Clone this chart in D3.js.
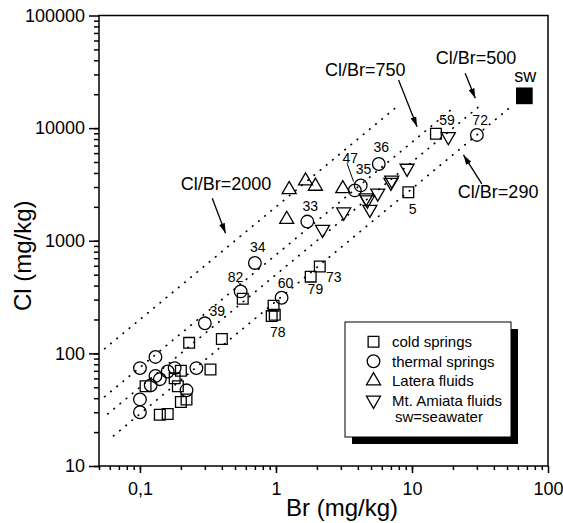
<!DOCTYPE html>
<html>
<head>
<meta charset="utf-8">
<script src="https://cdn.jsdelivr.net/npm/d3@7"></script>
<style>
  body { margin: 0; background: #fff; }
  svg text { font-family: "Liberation Sans", Arial, sans-serif; fill: #000; }
</style>
</head>
<body>
<div id="chart"></div>
<script>
// Cl vs Br scatter (log-log) with Cl/Br ratio lines

// Br, Cl pairs (mg/kg)
const coldSprings = [
    [15, 8900], [9.4, 2700], [2.1, 590], [1.8, 480], [0.96, 265], [0.98, 220],
    [0.93, 215], [0.57, 305], [0.23, 124], [0.40, 134], [0.33, 72], [0.20, 70],
    [0.18, 60], [0.19, 51], [0.11, 51], [0.20, 37], [0.22, 39], [0.14, 28.5], [0.16, 29]
];
const thermalSprings = [
    [30, 8700], [5.7, 4800], [4.2, 3100], [3.8, 2800], [1.7, 1480], [0.70, 635],
    [0.55, 355], [1.1, 312], [0.30, 185], [0.1, 74], [0.13, 93], [0.13, 63],
    [0.14, 59], [0.12, 52], [0.16, 69], [0.18, 74], [0.26, 74], [0.22, 47],
    [0.1, 39], [0.1, 30]
];
const lateraFluids = [[1.25, 2850], [1.65, 3400], [1.95, 3050], [3.1, 2900], [1.2, 1550]];
const amiataFluids = [
    [18.5, 8400], [9.2, 4400], [7.0, 3300], [7.1, 3450], [5.6, 2650], [4.6, 2400],
    [4.7, 2300], [4.9, 1900], [3.15, 1800], [2.2, 1260]
];
const seawater = [[67, 19350]];

// Cl/Br ratio lines: ratio, Br start, Br end
const ratioLines = [[2000, 0.055, 7.5], [750, 0.055, 21], [500, 0.058, 33], [290, 0.064, 52]];

// sample numbers (Br, Cl of label centre)
const sampleLabels = [
    ["59", 18.1, 11830], ["72", 31.7, 11830], ["36", 5.95, 6765], ["35", 4.41, 4315],
    ["47", 3.52, 5404], ["5", 10.1, 1916], ["33", 1.79, 2037], ["34", 0.735, 887],
    ["82", 0.505, 480], ["60", 1.175, 425], ["73", 2.66, 480], ["79", 1.95, 371],
    ["39", 0.37, 238], ["78", 1.03, 155]
];
// ratio captions: text, Br, Cl of text centre, arrow from, arrow to
const ratioLabels = [
    ["Cl/Br=2000", 0.43, 3193, [0.34, 2385], [0.426, 1166]],
    ["Cl/Br=750", 4.54, 32870, [7.97, 26800], [10.9, 10300]],
    ["Cl/Br=500", 29.6, 42000, [24.6, 30700], [29.2, 18400]],
    ["Cl/Br=290", 43, 2713, [32.6, 3195], [23.9, 5780]]
];
const leaders = [[[3.33, 4875], [3.72, 3350]], [[0.52, 440], [0.54, 415]]];

const xTickValues = [0.1, 1, 10, 100];
const xTickLabels = ["0,1", "1", "10", "100"];
const yTickValues = [10, 100, 1000, 10000, 100000];

const legendItems = ["cold springs", "thermal springs", "Latera fluids", "Mt. Amiata fluids"];

const w = 563, h = 523;
const margin = { top: 15.5, right: 15, bottom: 57, left: 99 };

const svg = d3.select("#chart").append("svg")
    .attr("width", w)
    .attr("height", h);

const x = d3.scaleLog()
    .domain([0.05, 100])
    .range([margin.left, w - margin.right]);

const y = d3.scaleLog()
    .domain([10, 100000])
    .range([h - margin.bottom, margin.top]);

// minor ticks 2..9 in each decade
function minorTicks(lo, hi) {
    const out = [];
    for (let e = Math.floor(Math.log10(lo)); e < Math.ceil(Math.log10(hi)); e++) {
        for (let m = 1; m <= 9; m++) {
            const v = m * Math.pow(10, e);
            if (v >= lo * 0.999 && v <= hi * 1.001) out.push(v);
        }
    }
    return out;
}

// frame
svg.append("rect")
    .attr("x", margin.left)
    .attr("y", margin.top)
    .attr("width", w - margin.right - margin.left)
    .attr("height", h - margin.bottom - margin.top)
    .attr("fill", "none")
    .attr("stroke", "#000")
    .attr("stroke-width", 1.5);

// X axis
const xAxisG = svg.append("g")
    .attr("transform", `translate(0,${h - margin.bottom})`);
xAxisG.append("g")
    .call(d3.axisBottom(x).tickValues(minorTicks(0.05, 100)).tickSize(4).tickFormat(""))
    .call(g => g.select(".domain").remove());
xAxisG.append("g")
    .call(d3.axisBottom(x).tickValues(xTickValues).tickSize(7).tickPadding(9)
        .tickFormat((d, i) => xTickLabels[i]))
    .call(g => g.select(".domain").remove())
    .selectAll("text")
    .style("font-size", "18px");
xAxisG.selectAll("line").attr("stroke-width", 1.5);

// Y axis
const yAxisG = svg.append("g")
    .attr("transform", `translate(${margin.left},0)`);
yAxisG.append("g")
    .call(d3.axisLeft(y).tickValues(minorTicks(10, 100000)).tickSize(5).tickFormat(""))
    .call(g => g.select(".domain").remove());
yAxisG.append("g")
    .call(d3.axisLeft(y).tickValues(yTickValues).tickSize(10).tickPadding(4)
        .tickFormat(d3.format("d")))
    .call(g => g.select(".domain").remove())
    .selectAll("text")
    .style("font-size", "18px");
yAxisG.selectAll("line").attr("stroke-width", 1.5);

// axis titles
svg.append("text")
    .attr("x", 342)
    .attr("y", 516)
    .attr("text-anchor", "middle")
    .style("font-size", "24px")
    .text("Br (mg/kg)");

svg.append("text")
    .attr("transform", `translate(31,${(margin.top + h - margin.bottom) / 2 + 15}) rotate(-90)`)
    .attr("text-anchor", "middle")
    .style("font-size", "24px")
    .text("Cl (mg/kg)");

// ratio lines
svg.append("g").selectAll("line")
    .data(ratioLines)
    .enter()
    .append("line")
    .attr("x1", d => x(d[1]))
    .attr("y1", d => y(d[0] * d[1]))
    .attr("x2", d => x(d[2]))
    .attr("y2", d => y(d[0] * d[2]))
    .attr("stroke", "#000")
    .attr("stroke-width", 1.7)
    .attr("stroke-linecap", "round")
    .attr("stroke-dasharray", "0.5,7.5");

// arrow marker
svg.append("defs").append("marker")
    .attr("id", "arrow")
    .attr("viewBox", "0 0 10 6")
    .attr("refX", 10)
    .attr("refY", 3)
    .attr("markerWidth", 10)
    .attr("markerHeight", 6)
    .attr("markerUnits", "userSpaceOnUse")
    .attr("orient", "auto")
    .append("path")
    .attr("d", "M0,0 L10,3 L0,6 Z")
    .attr("fill", "#000");

const ann = svg.append("g");
ann.selectAll("text")
    .data(ratioLabels)
    .enter()
    .append("text")
    .attr("x", d => x(d[1]))
    .attr("y", d => y(d[2]))
    .attr("dy", "0.35em")
    .attr("text-anchor", "middle")
    .style("font-size", "18px")
    .text(d => d[0]);
ann.selectAll("line.arrow")
    .data(ratioLabels)
    .enter()
    .append("line")
    .attr("class", "arrow")
    .attr("x1", d => x(d[3][0]))
    .attr("y1", d => y(d[3][1]))
    .attr("x2", d => x(d[4][0]))
    .attr("y2", d => y(d[4][1]))
    .attr("stroke", "#000")
    .attr("stroke-width", 1.3)
    .attr("marker-end", "url(#arrow)");

ann.selectAll("line.leader")
    .data(leaders)
    .enter()
    .append("line")
    .attr("class", "leader")
    .attr("x1", d => x(d[0][0]))
    .attr("y1", d => y(d[0][1]))
    .attr("x2", d => x(d[1][0]))
    .attr("y2", d => y(d[1][1]))
    .attr("stroke", "#000")
    .attr("stroke-width", 1);

// markers
const symSquare = d3.symbol().type(d3.symbolSquare).size(115);
const symCircle = d3.symbol().type(d3.symbolCircle).size(125);
const symTriangle = d3.symbol().type(d3.symbolTriangle).size(85);

function drawSeries(data, sym, rotate) {
    svg.append("g").selectAll("path")
        .data(data)
        .enter()
        .append("path")
        .attr("d", sym)
        .attr("transform", d => `translate(${x(d[0])},${y(d[1])})` + (rotate ? " rotate(180)" : ""))
        .attr("fill", "none")
        .attr("stroke", "#000")
        .attr("stroke-width", 1.3);
}
drawSeries(coldSprings, symSquare, false);
drawSeries(thermalSprings, symCircle, false);
drawSeries(lateraFluids, symTriangle, false);
drawSeries(amiataFluids, symTriangle, true);

// seawater
svg.append("g").selectAll("path")
    .data(seawater)
    .enter()
    .append("path")
    .attr("d", d3.symbol().type(d3.symbolSquare).size(280))
    .attr("transform", d => `translate(${x(d[0])},${y(d[1])})`)
    .attr("fill", "#000");
svg.append("text")
    .attr("x", x(seawater[0][0]) + 1)
    .attr("y", y(seawater[0][1]) - 14)
    .attr("text-anchor", "middle")
    .style("font-size", "18px")
    .text("sw");

// sample numbers
svg.append("g").selectAll("text")
    .data(sampleLabels)
    .enter()
    .append("text")
    .attr("x", d => x(d[1]))
    .attr("y", d => y(d[2]))
    .attr("dy", "0.35em")
    .attr("text-anchor", "middle")
    .style("font-size", "14px")
    .text(d => d[0]);

// legend with drop shadow
const lg = svg.append("g").attr("transform", "translate(345,322)");
lg.append("rect")
    .attr("x", 7).attr("y", 7)
    .attr("width", 166).attr("height", 115)
    .attr("fill", "#000");
lg.append("rect")
    .attr("width", 166).attr("height", 115)
    .attr("fill", "#fff")
    .attr("stroke", "#000")
    .attr("stroke-width", 1);

const legendSyms = [[symSquare, false], [symCircle, false], [symTriangle, false], [symTriangle, true]];
const row = d3.scaleBand().domain(legendItems).range([10, 88]);

lg.selectAll("path")
    .data(legendItems)
    .enter()
    .append("path")
    .attr("d", (d, i) => legendSyms[i][0]())
    .attr("transform", (d, i) => `translate(28.5,${row(d) + row.bandwidth() / 2})` + (legendSyms[i][1] ? " rotate(180)" : ""))
    .attr("fill", "none")
    .attr("stroke", "#000")
    .attr("stroke-width", 1.3);

lg.selectAll("text.item")
    .data(legendItems)
    .enter()
    .append("text")
    .attr("class", "item")
    .attr("x", 47)
    .attr("y", d => row(d) + row.bandwidth() / 2)
    .attr("dy", "0.35em")
    .style("font-size", "15px")
    .text(d => d);

lg.append("text")
    .attr("x", 50)
    .attr("y", 100)
    .style("font-size", "15px")
    .text("sw=seawater");
</script>
</body>
</html>
